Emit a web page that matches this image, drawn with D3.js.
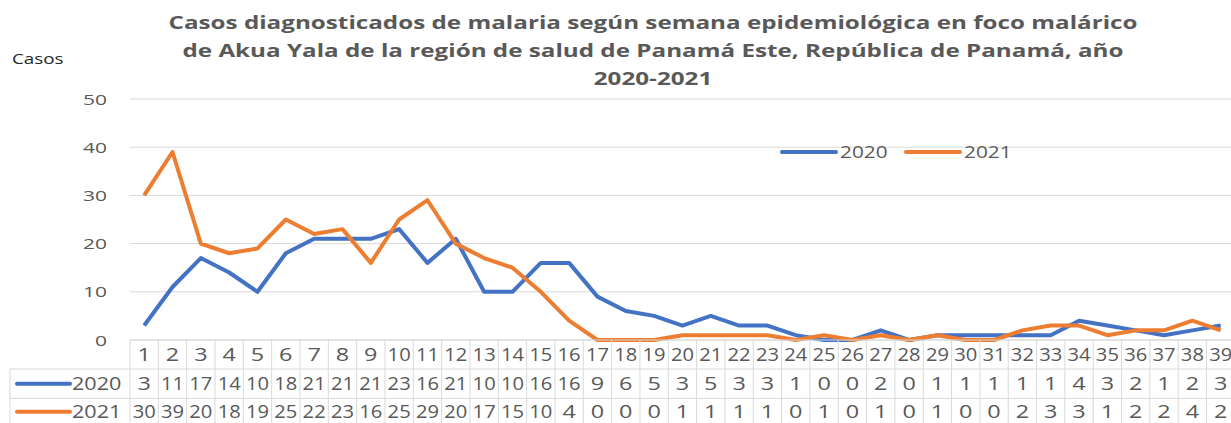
<!DOCTYPE html>
<html>
<head>
<meta charset="utf-8">
<script src="https://cdn.jsdelivr.net/npm/d3@7"></script>
<style>
  body { margin: 0; background: #fff; }
  svg text { font-family: "Open Sans", "Liberation Sans", sans-serif; }
</style>
</head>
<body>
<div id="chart"></div>
<script>
// data
var weeks = d3.range(1, 40);
var cases2020 = [3, 11, 17, 14, 10, 18, 21, 21, 21, 23, 16, 21, 10, 10, 16, 16, 9, 6, 5, 3, 5, 3, 3, 1, 0, 0, 2, 0, 1, 1, 1, 1, 1, 4, 3, 2, 1, 2, 3];
var cases2021 = [30, 39, 20, 18, 19, 25, 22, 23, 16, 25, 29, 20, 17, 15, 10, 4, 0, 0, 0, 1, 1, 1, 1, 0, 1, 0, 1, 0, 1, 0, 0, 2, 3, 3, 1, 2, 2, 4, 2];
var seriesNames = ["2020", "2021"];
var yTicks = [0, 10, 20, 30, 40, 50];
var titleLines = [
  "Casos diagnosticados de malaria según semana epidemiológica en foco malárico",
  "de Akua Yala de la región de salud de Panamá Este, República de Panamá, año",
  "2020-2021"
];

var colors = ["#4472c4", "#ed7d31"];
var svgWidth = 1231, svgHeight = 423;
var plotLeft = 130, plotTop = 99, plotBottom = 340;
var stretch = 1.3; // the picture is a bit wide, text looks stretched

var svg = d3.select("#chart").append("svg")
  .attr("width", svgWidth)
  .attr("height", svgHeight);

// puts a text at (px,py) stretched horizontally
function placeText(sel, px, py, sx) {
  return sel.attr("transform", (d, i) => {
    var xx = typeof px === "function" ? px(d, i) : px;
    var yy = typeof py === "function" ? py(d, i) : py;
    return `translate(${xx},${yy}) scale(${typeof sx === "function" ? sx(d, i) : sx},1)`;
  });
}

var x = d3.scaleBand()
  .domain(weeks)
  .range([plotLeft, plotLeft + 28.33 * weeks.length]);

var y = d3.scaleLinear()
  .domain([0, 50])
  .range([plotBottom, plotTop]);

// title
svg.append("g").selectAll("text")
  .data(titleLines)
  .enter().append("text")
  .call(placeText, 653, (d, i) => 29 + i * 28, 1.31)
  .attr("text-anchor", "middle")
  .attr("font-size", 18.5)
  .attr("font-weight", "bold")
  .attr("fill", "#595959")
  .text(d => d);

svg.append("text")
  .call(placeText, 12, 64, stretch)
  .attr("font-size", 14.5)
  .attr("fill", "#262626")
  .text("Casos");

// gridlines
svg.append("g").selectAll("line")
  .data(yTicks)
  .enter().append("line")
  .attr("x1", plotLeft).attr("x2", svgWidth)
  .attr("y1", d => y(d)).attr("y2", d => y(d))
  .attr("stroke", "#d9d9d9");

svg.append("g").selectAll("text")
  .data(yTicks)
  .enter().append("text")
  .call(placeText, 107, d => y(d) + 5.5, 1.4)
  .attr("text-anchor", "end")
  .attr("font-size", 15)
  .attr("fill", "#595959")
  .text(d => d);

// lines
var line = d3.line()
  .x((d, i) => x(weeks[i]) + x.bandwidth() / 2)
  .y(d => y(d));

[cases2020, cases2021].forEach(function(s, k) {
  svg.append("path")
    .datum(s)
    .attr("fill", "none")
    .attr("stroke", colors[k])
    .attr("stroke-width", 4)
    .attr("stroke-linejoin", "round")
    .attr("d", line);
});

// legend inside the plot
var legend = svg.append("g");
[[782, 838], [906, 962]].forEach(function(p, k) {
  legend.append("line")
    .attr("x1", p[0]).attr("x2", p[0] + 54)
    .attr("y1", 152).attr("y2", 152)
    .attr("stroke", colors[k]).attr("stroke-width", 4).attr("stroke-linecap", "round");
  legend.append("text")
    .call(placeText, p[1] + 2, 158, stretch)
    .attr("font-size", 16).attr("fill", "#595959")
    .text(seriesNames[k]);
});

// data table
var table = svg.append("g");
var tableRight = x.range()[1];
var rows = [plotBottom, 369, 398.5, svgHeight + 2];
table.selectAll(".hline")
  .data(rows.slice(0, 3))
  .enter().append("line")
  .attr("x1", (d, i) => i === 0 ? plotLeft : 10)
  .attr("x2", tableRight)
  .attr("y1", d => d).attr("y2", d => d)
  .attr("stroke", "#d9d9d9");
table.append("line")
  .attr("x1", 10).attr("x2", 10)
  .attr("y1", rows[1]).attr("y2", svgHeight)
  .attr("stroke", "#d9d9d9");
table.selectAll(".vline")
  .data(weeks.concat([40]))
  .enter().append("line")
  .attr("x1", d => d === 40 ? tableRight : x(d))
  .attr("x2", d => d === 40 ? tableRight : x(d))
  .attr("y1", rows[0]).attr("y2", svgHeight)
  .attr("stroke", "#d9d9d9");

var cellRows = [weeks, cases2020, cases2021];
cellRows.forEach(function(r, j) {
  table.selectAll(".c" + j)
    .data(r)
    .enter().append("text")
    .call(placeText, (d, i) => x(weeks[i]) + x.bandwidth() / 2, (rows[j] + rows[j + 1]) / 2 + 6.5,
      d => String(d).length > 1 ? 1.12 : 1.3)
    .attr("text-anchor", "middle")
    .attr("font-size", 18)
    .attr("fill", "#595959")
    .text(d => d);
});

// row keys
seriesNames.forEach(function(n, k) {
  var cy = (rows[k + 1] + rows[k + 2]) / 2;
  table.append("line")
    .attr("x1", 17).attr("x2", 70)
    .attr("y1", cy).attr("y2", cy)
    .attr("stroke", colors[k]).attr("stroke-width", 4).attr("stroke-linecap", "round");
  table.append("text")
    .call(placeText, 72, cy + 6.5, 1.2)
    .attr("font-size", 18).attr("fill", "#595959")
    .text(n);
});
</script>
</body>
</html>
